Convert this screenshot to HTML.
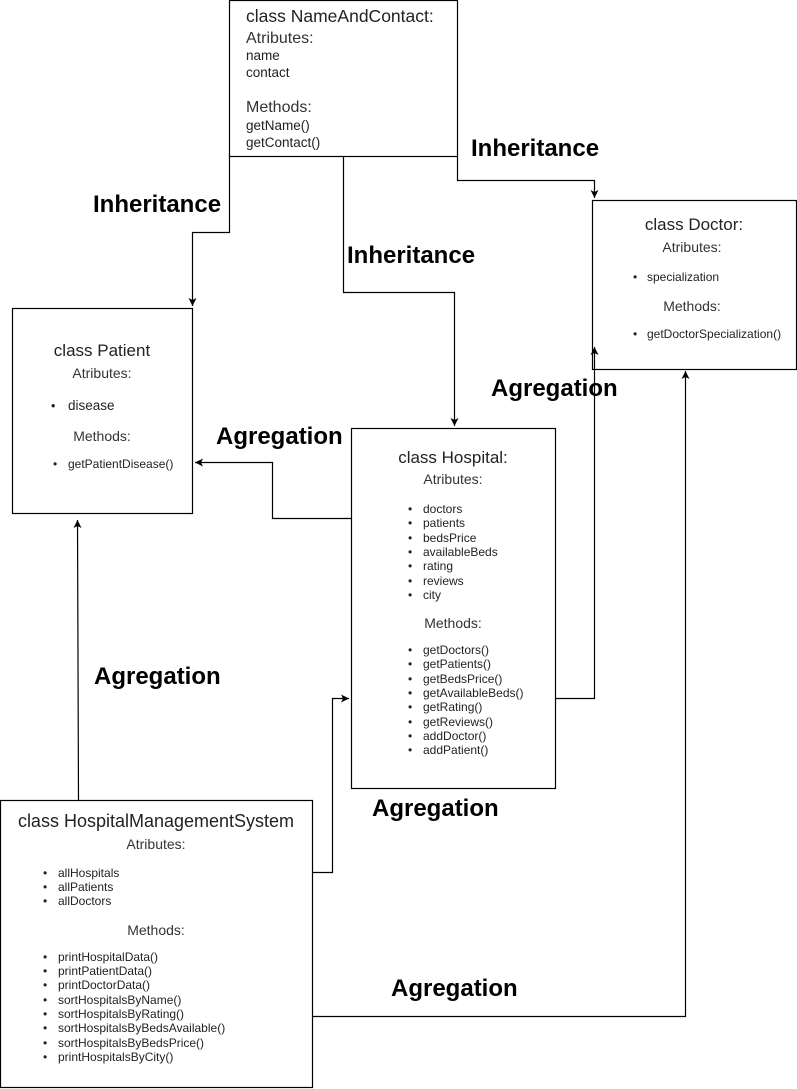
<!DOCTYPE html>
<html><head><meta charset="utf-8"><style>
html,body{margin:0;padding:0;background:#fff;}
svg{display:block;font-family:"Liberation Sans",Arial,sans-serif;}
.t{font-size:16px;fill:#222}
.h{font-size:14px;fill:#333}
.s{font-size:12px;fill:#222}
.m{font-size:12.5px;fill:#222}
.b{font-size:24px;font-weight:bold;fill:#000}
</style></head><body>
<svg width="797" height="1089" viewBox="0 0 797 1089">
<defs><marker id="a" markerWidth="10" markerHeight="10" refX="8" refY="5" orient="auto" markerUnits="userSpaceOnUse"><path d="M0,1 L8,5 L0,9 L2,5 Z" fill="#000"/></marker></defs>
<g fill="none" stroke="#000" stroke-width="1.2">
<rect x="229.5" y="0.5" width="228" height="156"/>
<rect x="592.5" y="200.5" width="204" height="169"/>
<rect x="12.5" y="308.5" width="180" height="205"/>
<rect x="351.5" y="428.5" width="204" height="360"/>
<rect x="0.5" y="800.5" width="312" height="287"/>
<path d="M229.5,156 V232.5 H192.5 V306" marker-end="url(#a)"/>
<path d="M343.5,156 V292.5 H454.5 V426" marker-end="url(#a)"/>
<path d="M457.5,156 V180.5 H594.5 V198" marker-end="url(#a)"/>
<path d="M351,518.5 H272.5 V462.5 H195" marker-end="url(#a)"/>
<path d="M555,698.5 H594.5 V347" marker-end="url(#a)"/>
<path d="M78.5,800 L77.5,520" marker-end="url(#a)"/>
<path d="M312,872.5 H332.5 V698.5 H349" marker-end="url(#a)"/>
<path d="M312,1016.5 H685.5 V371" marker-end="url(#a)"/>
</g>
<text class="t" x="246" y="22" style="font-size:17.5px">class NameAndContact:</text>
<text class="h" x="246" y="43" style="font-size:16px">Atributes:</text>
<text class="m" x="246" y="60" style="font-size:13.5px">name</text>
<text class="m" x="246" y="77" style="font-size:13.5px">contact</text>
<text class="h" x="246" y="112" style="font-size:16px">Methods:</text>
<text class="m" x="246" y="130" style="font-size:13.5px">getName()</text>
<text class="m" x="246" y="147" style="font-size:13.5px">getContact()</text>

<text class="t" x="694" y="230" text-anchor="middle" style="font-size:17px">class Doctor:</text>
<text class="h" x="692" y="252" text-anchor="middle">Atributes:</text>
<text class="s" x="633" y="281">•</text><text class="s" x="647" y="281">specialization</text>
<text class="h" x="692" y="311" text-anchor="middle">Methods:</text>
<text class="s" x="633" y="338">•</text><text class="s" x="647" y="338">getDoctorSpecialization()</text>

<text class="t" x="102" y="356" text-anchor="middle" style="font-size:17px">class Patient</text>
<text class="h" x="102" y="378" text-anchor="middle">Atributes:</text>
<text class="m" x="51" y="410">•</text><text class="m" x="68" y="410" style="font-size:13.5px">disease</text>
<text class="h" x="102" y="441" text-anchor="middle">Methods:</text>
<text class="s" x="53" y="468">•</text><text class="s" x="68" y="468">getPatientDisease()</text>

<text class="t" x="453" y="463" text-anchor="middle" style="font-size:17px">class Hospital:</text>
<text class="h" x="453" y="484" text-anchor="middle">Atributes:</text>
<g class="s">
<text x="408" y="513">•</text><text x="423" y="513">doctors</text>
<text x="408" y="527">•</text><text x="423" y="527">patients</text>
<text x="408" y="542">•</text><text x="423" y="542">bedsPrice</text>
<text x="408" y="556">•</text><text x="423" y="556">availableBeds</text>
<text x="408" y="570">•</text><text x="423" y="570">rating</text>
<text x="408" y="585">•</text><text x="423" y="585">reviews</text>
<text x="408" y="599">•</text><text x="423" y="599">city</text>
<text x="408" y="654">•</text><text x="423" y="654">getDoctors()</text>
<text x="408" y="668">•</text><text x="423" y="668">getPatients()</text>
<text x="408" y="683">•</text><text x="423" y="683">getBedsPrice()</text>
<text x="408" y="697">•</text><text x="423" y="697">getAvailableBeds()</text>
<text x="408" y="711">•</text><text x="423" y="711">getRating()</text>
<text x="408" y="726">•</text><text x="423" y="726">getReviews()</text>
<text x="408" y="740">•</text><text x="423" y="740">addDoctor()</text>
<text x="408" y="754">•</text><text x="423" y="754">addPatient()</text>
</g>
<text class="h" x="453" y="628" text-anchor="middle">Methods:</text>

<text class="t" x="156" y="827" text-anchor="middle" style="font-size:18px">class HospitalManagementSystem</text>
<text class="h" x="156" y="849" text-anchor="middle">Atributes:</text>
<g class="s">
<text x="43" y="877">•</text><text x="58" y="877">allHospitals</text>
<text x="43" y="891">•</text><text x="58" y="891">allPatients</text>
<text x="43" y="905">•</text><text x="58" y="905">allDoctors</text>
<text x="43" y="961">•</text><text x="58" y="961">printHospitalData()</text>
<text x="43" y="975">•</text><text x="58" y="975">printPatientData()</text>
<text x="43" y="989">•</text><text x="58" y="989">printDoctorData()</text>
<text x="43" y="1004">•</text><text x="58" y="1004">sortHospitalsByName()</text>
<text x="43" y="1018">•</text><text x="58" y="1018">sortHospitalsByRating()</text>
<text x="43" y="1032">•</text><text x="58" y="1032">sortHospitalsByBedsAvailable()</text>
<text x="43" y="1047">•</text><text x="58" y="1047">sortHospitalsByBedsPrice()</text>
<text x="43" y="1061">•</text><text x="58" y="1061">printHospitalsByCity()</text>
</g>
<text class="h" x="156" y="935" text-anchor="middle">Methods:</text>

<text class="b" x="93" y="212">Inheritance</text>
<text class="b" x="471" y="156">Inheritance</text>
<text class="b" x="347" y="263">Inheritance</text>
<text class="b" x="491" y="396">Agregation</text>
<text class="b" x="216" y="444">Agregation</text>
<text class="b" x="94" y="684">Agregation</text>
<text class="b" x="372" y="816">Agregation</text>
<text class="b" x="391" y="996">Agregation</text>
</svg>
</body></html>
